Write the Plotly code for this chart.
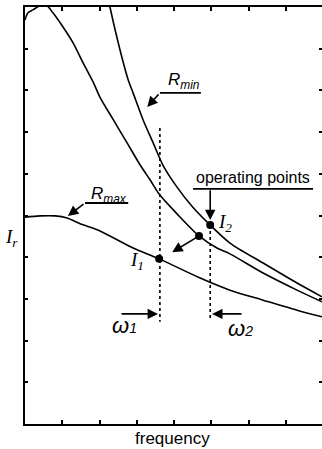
import plotly.graph_objects as go

# curves (x: frequency units 0..8, y: I_r units 0..10)
rmin_x = [2.17, 2.28, 2.55, 2.77, 2.90, 3.17, 3.44, 3.70, 4.08, 4.51, 4.97, 5.50, 6.39, 7.30, 7.97]
rmin_y = [10.48, 10.0, 8.97, 8.25, 7.94, 7.29, 6.74, 6.21, 5.68, 5.19, 4.77, 4.34, 3.86, 3.38, 3.05]

mid_x = [0.0, 0.08, 0.21, 0.40, 0.59, 0.75, 1.02, 1.29, 1.56, 1.83, 2.01, 2.36, 2.74, 3.09, 3.36,
         3.62, 4.08, 4.67, 5.15, 5.50, 6.39, 7.30, 7.97]
mid_y = [9.69, 9.86, 9.93, 10.03, 10.03, 9.86, 9.52, 9.14, 8.66, 8.20, 7.84, 7.31, 6.74, 6.21, 5.85,
         5.49, 5.04, 4.51, 4.22, 4.08, 3.62, 3.21, 2.93]

rmax_x = [0.0, 0.40, 0.81, 1.13, 1.48, 2.01, 2.90, 3.60, 4.70, 5.50, 6.39, 7.30, 7.97]
rmax_y = [4.96, 4.99, 4.99, 4.94, 4.80, 4.63, 4.22, 3.96, 3.50, 3.21, 2.97, 2.73, 2.57]

# operating points: I1, middle, I2
op_x = [3.60, 4.67, 4.97]
op_y = [3.96, 4.51, 4.77]

# dotted frequency markers
w1_x = 3.62
w1_y = [7.10, 2.45]
w2_x = 4.97
w2_y = [4.77, 2.54]

black = "#000000"
fig = go.Figure()

for xs, ys in [(rmin_x, rmin_y), (mid_x, mid_y), (rmax_x, rmax_y)]:
    fig.add_trace(go.Scatter(x=xs, y=ys, mode="lines", line=dict(color=black, width=1.6, shape="spline", smoothing=0.8),
                             showlegend=False, hoverinfo="skip"))

fig.add_trace(go.Scatter(x=[w1_x, w1_x], y=w1_y, mode="lines", line=dict(color=black, width=1.6, dash="dot"), showlegend=False))
fig.add_trace(go.Scatter(x=[w2_x, w2_x], y=w2_y, mode="lines", line=dict(color=black, width=1.6, dash="dot"), showlegend=False))

fig.add_trace(go.Scatter(x=op_x, y=op_y, mode="markers", marker=dict(color=black, size=8), showlegend=False))

# underlines for labels
for x0, x1, y in [(3.62, 4.72, 7.94), (1.61, 2.77, 5.30), (4.51, 7.73, 5.64)]:
    fig.add_trace(go.Scatter(x=[x0, x1], y=[y, y], mode="lines", line=dict(color=black, width=1.8), showlegend=False))


def arrow(tail, head):
    fig.add_annotation(x=head[0], y=head[1], ax=tail[0], ay=tail[1], xref="x", yref="y", axref="x", ayref="y",
                       text="", showarrow=True, arrowhead=2, arrowsize=1.3, arrowwidth=1.6, arrowcolor=black)


arrow((2.55, 2.64), (3.57, 2.64))
arrow((5.85, 2.64), (5.02, 2.64))
arrow((4.97, 5.64), (4.97, 4.89))
arrow((4.67, 4.51), (3.95, 4.12))
arrow((3.62, 7.94), (3.28, 7.60))
arrow((1.61, 5.30), (1.15, 4.99))


def label(x, y, text, size, family="Liberation Sans", ref="x"):
    fig.add_annotation(x=x, y=y, xref=ref, yref="y" if ref == "x" else "paper", text=text, showarrow=False,
                       xanchor="center", yanchor="middle",
                       font=dict(family=family, size=size, color=black))


label(4.26, 8.22, "<i>R<sub>min</sub></i>", 17)
label(2.25, 5.50, "<i>R<sub>max</sub></i>", 17)
label(6.12, 5.92, "operating points", 16)
label(3.01, 3.90, "<i>I<sub>1</sub></i>", 19, "Liberation Serif")
label(5.37, 4.82, "<i>I<sub>2</sub></i>", 19, "Liberation Serif")
label(2.68, 2.37, "<i>ω<span style='font-size:14px'>1</span></i>", 22)
label(5.77, 2.30, "<i>ω<span style='font-size:14px'>2</span></i>", 22)
label(-0.044, 0.445, "<i>I<sub>r</sub></i>", 19, "Liberation Serif", ref="paper")
label(0.498, -0.034, "frequency", 17, ref="paper")

fig.update_xaxes(range=[0, 7.97], tickvals=[1, 2, 3, 4, 5, 6, 7], ticks="inside", ticklen=4, tickwidth=1.5,
                 tickcolor=black, showticklabels=False, showline=True, linewidth=2, linecolor=black,
                 mirror="ticks", showgrid=False, zeroline=False)
fig.update_yaxes(range=[0, 10], tickvals=[1, 2, 3, 4, 5, 6, 7, 8, 9], ticks="inside", ticklen=3, tickwidth=1.5,
                 tickcolor=black, showticklabels=False, showline=True, linewidth=2, linecolor=black,
                 mirror=False, showgrid=False, zeroline=False)
fig.update_layout(
    yaxis2=dict(overlaying="y", side="right", range=[0, 10], tickvals=[1, 2, 3, 4, 5, 6, 7, 8, 9],
                ticks="inside", ticklen=3, tickwidth=1.5, tickcolor=black, showticklabels=False,
                showline=False, showgrid=False, zeroline=False),
    width=322, height=449,
    margin=dict(l=25, r=0, t=7, b=25),
    paper_bgcolor="white", plot_bgcolor="white",
    showlegend=False,
)
# dummy trace so the right-hand tick axis is drawn
fig.add_trace(go.Scatter(x=[0], y=[0], yaxis="y2", mode="markers", marker=dict(opacity=0), showlegend=False, hoverinfo="skip"))

fig.write_html("out.html", config={"displayModeBar": False}, post_script="document.body.style.margin='0';")
